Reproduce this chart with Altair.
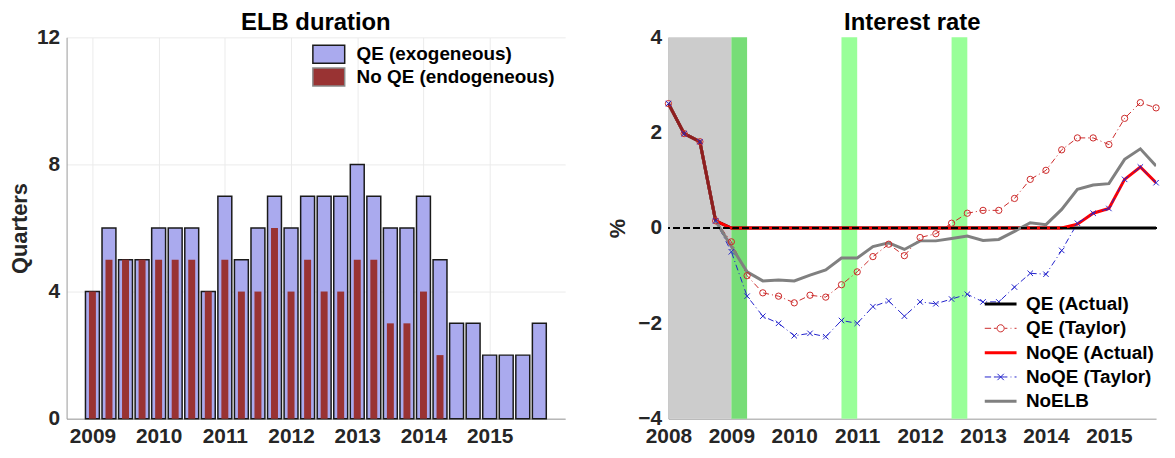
import altair as alt
import pandas as pd

FONT = "Liberation Sans"
TXT = "#262626"

# ---------------- Left panel data: ELB duration ----------------
bar_quarters = [
    "2009Q1", "2009Q2", "2009Q3", "2009Q4",
    "2010Q1", "2010Q2", "2010Q3", "2010Q4",
    "2011Q1", "2011Q2", "2011Q3", "2011Q4",
    "2012Q1", "2012Q2", "2012Q3", "2012Q4",
    "2013Q1", "2013Q2", "2013Q3", "2013Q4",
    "2014Q1", "2014Q2", "2014Q3", "2014Q4",
    "2015Q1", "2015Q2", "2015Q3", "2015Q4",
]
qe_exog = [4, 6, 5, 5, 6, 6, 6, 4, 7, 5, 6, 7, 6, 7, 7, 7, 8, 7, 6, 6, 7, 5, 3, 3, 2, 2, 2, 3]
noqe_endog = [4, 5, 5, 5, 5, 5, 5, 4, 5, 4, 4, 6, 4, 5, 4, 4, 5, 5, 3, 3, 4, 2]
bar_names = ["QE (exogeneous)", "No QE (endogeneous)"]
bar_ticks = [0, 4, 8, 12]
bar_years = [2009, 2010, 2011, 2012, 2013, 2014, 2015]


def qpos(label):
    return int(label[:4]) + (int(label[-1]) - 1) / 4.0


rows = []
for q, v in zip(bar_quarters, qe_exog):
    rows.append({"t": qpos(q), "series": bar_names[0], "value": v})
for q, v in zip(bar_quarters, noqe_endog):
    rows.append({"t": qpos(q), "series": bar_names[1], "value": v})
bars_df = pd.DataFrame(rows)

# ---------------- Right panel data: Interest rate ----------------
rate_quarters = [
    "2008Q1", "2008Q2", "2008Q3", "2008Q4",
    "2009Q1", "2009Q2", "2009Q3", "2009Q4",
    "2010Q1", "2010Q2", "2010Q3", "2010Q4",
    "2011Q1", "2011Q2", "2011Q3", "2011Q4",
    "2012Q1", "2012Q2", "2012Q3", "2012Q4",
    "2013Q1", "2013Q2", "2013Q3", "2013Q4",
    "2014Q1", "2014Q2", "2014Q3", "2014Q4",
    "2015Q1", "2015Q2", "2015Q3", "2015Q4",
]
qe_actual = [2.61, 1.98, 1.81, 0.15, 0, 0, 0, 0, 0, 0, 0, 0, 0, 0, 0, 0,
             0, 0, 0, 0, 0, 0, 0, 0, 0, 0, 0, 0, 0, 0, 0, 0]
qe_taylor = [2.61, 1.98, 1.81, 0.15, -0.29, -1.00, -1.36, -1.43, -1.57, -1.41, -1.45, -1.19,
             -0.92, -0.60, -0.34, -0.58, -0.20, -0.12, 0.10, 0.31, 0.37, 0.37, 0.62, 1.02,
             1.21, 1.64, 1.89, 1.89, 1.75, 2.30, 2.63, 2.52]
noqe_actual = [2.61, 1.98, 1.81, 0.15, 0, 0, 0, 0, 0, 0, 0, 0, 0, 0, 0, 0,
               0, 0, 0, 0, 0, 0, 0, 0, 0, 0, 0.08, 0.31, 0.41, 1.02, 1.28, 0.95]
noqe_taylor = [2.61, 1.98, 1.81, 0.15, -0.50, -1.43, -1.85, -2.00, -2.26, -2.21, -2.28, -1.94,
               -2.00, -1.65, -1.53, -1.85, -1.55, -1.59, -1.49, -1.39, -1.55, -1.55, -1.24, -0.95,
               -0.97, -0.47, 0.10, 0.31, 0.41, 1.02, 1.28, 0.95]
noelb = [2.61, 1.98, 1.81, 0.15, -0.39, -0.92, -1.11, -1.09, -1.11, -0.99, -0.88, -0.63,
         -0.63, -0.39, -0.31, -0.45, -0.27, -0.27, -0.22, -0.17, -0.26, -0.24, -0.07, 0.11,
         0.07, 0.39, 0.81, 0.90, 0.93, 1.44, 1.66, 1.30]
line_names = ["QE (Actual)", "QE (Taylor)", "NoQE (Actual)", "NoQE (Taylor)", "NoELB"]
rate_ticks = [-4, -2, 0, 2, 4]
rate_years = [2008, 2009, 2010, 2011, 2012, 2013, 2014, 2015]

# shaded periods: start, end, kind
shade_start = [2008.0, 2009.0, 2010.75, 2012.5]
shade_end = [2009.0, 2009.25, 2011.0, 2012.75]
shade_kind = ["pre", "overlap", "qe", "qe"]

lrows = []
for name, vals in zip(line_names, [qe_actual, qe_taylor, noqe_actual, noqe_taylor, noelb]):
    for q, v in zip(rate_quarters, vals):
        lrows.append({"t": qpos(q), "series": name, "value": v})
lines_df = pd.DataFrame(lrows)
shade_df = pd.DataFrame({"start": shade_start, "end": shade_end, "kind": shade_kind,
                         "lo": [rate_ticks[0]] * 4, "hi": [rate_ticks[-1]] * 4})

LABEL_SIZE = 21
TITLE_SIZE = 24
PH = 384

# ---------------- Left chart ----------------
LW = 502
xb = alt.X("t:Q", scale=alt.Scale(domain=[2008.685, 2016.065], nice=False, zero=False),
           axis=alt.Axis(values=bar_years, format="d", grid=True, title=None, ticks=False,
                         labelPadding=7, labelOverlap=False, labelFlush=False))
yb = alt.Y("value:Q", scale=alt.Scale(domain=[0, 12], nice=False),
           axis=alt.Axis(values=bar_ticks, grid=True, title="Quarters", ticks=False,
                         labelPadding=7, titlePadding=5, labelOverlap=False))

rect_path = "M-1.78,-1L1.78,-1L1.78,1L-1.78,1Z"
bar_legend = alt.Legend(title=None, orient="none", legendX=254, legendY=7,
                        symbolType=rect_path, symbolSize=324, labelOffset=18,
                        rowPadding=-1, symbolStrokeWidth=1.5, symbolOpacity=1,
                        labelFontSize=19, labelFont=FONT, labelFontWeight="bold",
                        labelColor="#000000", padding=0, labelLimit=400)
fill_enc = alt.Fill("series:N", scale=alt.Scale(domain=bar_names, range=["#AAAAEE", "#993333"]),
                    legend=bar_legend)
stroke_enc = alt.Stroke("series:N", scale=alt.Scale(domain=bar_names, range=["#1A1A1A", "#8A8A8A"]),
                        legend=bar_legend)

qe_bars = alt.Chart(bars_df).transform_filter(alt.datum.series == bar_names[0]).mark_bar(
    size=14, strokeWidth=1.5, orient="vertical", opacity=1
).encode(x=xb, y=yb, fill=fill_enc, stroke=stroke_enc)
noqe_bars = alt.Chart(bars_df).transform_filter(alt.datum.series == bar_names[1]).mark_bar(
    size=7, strokeWidth=0, orient="vertical", opacity=1
).encode(x=xb, y=yb, fill=fill_enc, stroke=stroke_enc)

left = alt.layer(qe_bars, noqe_bars).properties(
    width=LW, height=PH,
    title=alt.Title("ELB duration", fontSize=TITLE_SIZE, font=FONT, fontWeight="bold",
                    color="#000000", offset=-9),
)

# ---------------- Right chart ----------------
RW = 491
x_axis_r = alt.Axis(values=rate_years, format="d", grid=False, title=None, ticks=False,
                    labelPadding=7, labelOverlap=False, labelFlush=False)
y_axis_r = alt.Axis(values=rate_ticks, grid=False, title="%", ticks=False,
                    labelPadding=7, titlePadding=8, labelOverlap=False)
x_scale_r = alt.Scale(domain=[2008, 2015.75], nice=False, zero=False)
y_scale_r = alt.Scale(domain=[-4, 4], nice=False)
xr = alt.X("t:Q", scale=x_scale_r, axis=x_axis_r)
yr = alt.Y("value:Q", scale=y_scale_r, axis=y_axis_r)

shade = alt.Chart(shade_df).mark_rect(opacity=1).encode(
    x=alt.X("start:Q", scale=x_scale_r, axis=x_axis_r),
    x2="end:Q",
    y=alt.Y("lo:Q", scale=y_scale_r, axis=y_axis_r),
    y2="hi:Q",
    color=alt.Color("kind:N", scale=alt.Scale(domain=["pre", "overlap", "qe"],
                                              range=["#CCCCCC", "#77DD77", "#99FF99"]),
                    legend=None),
)


def line_layer(name, color, width, dash=None):
    kw = dict(color=color, strokeWidth=width, clip=True)
    if dash:
        kw["strokeDash"] = dash
    return alt.Chart(lines_df).transform_filter(alt.datum.series == name).mark_line(**kw).encode(
        x=xr, y=yr)


l_qe_act = line_layer(line_names[0], "#000000", 3)
l_qe_tay = line_layer(line_names[1], "#CC2A2A", 1, [6, 3, 1, 3])
l_noqe_act = line_layer(line_names[2], "#FF0000", 3)
l_noqe_tay = line_layer(line_names[3], "#2222CC", 1, [6, 3, 1, 3])
l_noelb = line_layer(line_names[4], "#808080", 3)

early = alt.Chart(lines_df).transform_filter(
    (alt.datum.series == line_names[2]) & (alt.datum.t <= 2008.75)
).mark_line(color="#8E1E1E", strokeWidth=3).encode(x=xr, y=yr)

cross_path = "M-1,-1L1,1M-1,1L1,-1"
p_qe_tay = alt.Chart(lines_df).transform_filter(alt.datum.series == line_names[1]).mark_point(
    shape="circle", filled=False, color="#CC2A2A", size=40, strokeWidth=1, opacity=1
).encode(x=xr, y=yr)
p_noqe_tay = alt.Chart(lines_df).transform_filter(alt.datum.series == line_names[3]).mark_point(
    shape=cross_path, filled=False, color="#2222CC", size=30, strokeWidth=1, opacity=1
).encode(x=xr, y=yr)

zero_line = alt.Chart(lines_df).mark_rule(color="#000000", strokeWidth=1, strokeDash=[6, 4]).encode(
    y=alt.Y(datum=0, scale=y_scale_r)
)

# legend symbols: line sample (with marker) drawn as a path
dashdot_circle = ("M-2,0H-1.2M-0.85,0H-0.5M0.5,0H0.85M1.25,0H1.35M1.75,0H2"
                  "M0.45,0A0.45,0.45 0 1,1 -0.45,0A0.45,0.45 0 1,1 0.45,0")
dashdot_cross = ("M-2,0H-1.2M-0.85,0H-0.5M0.5,0H0.85M1.25,0H1.35M1.75,0H2"
                 "M-0.4,-0.4L0.4,0.4M-0.4,0.4L0.4,-0.4M-0.5,0H0.5")
solid = "M-2,0H2"
line_legend = alt.Legend(title=None, orient="none", legendX=325, legendY=259,
                         symbolSize=256, labelOffset=16, rowPadding=4.5, padding=0,
                         labelFontSize=19, labelFont=FONT, labelFontWeight="bold",
                         labelColor="#000000", symbolFillColor="transparent", symbolOpacity=1,
                         labelLimit=400)
legend_layer = alt.Chart(alt.InlineData(values=[{"series": "none", "t": 0, "value": 0}])).transform_filter(
    alt.datum.series != "none"
).mark_point(filled=False, opacity=1).encode(
    x=xr, y=yr,
    shape=alt.Shape("series:N", scale=alt.Scale(domain=line_names,
                                                range=[solid, dashdot_circle, solid, dashdot_cross, solid]),
                    legend=line_legend),
    stroke=alt.Stroke("series:N", scale=alt.Scale(domain=line_names,
                                                  range=["#000000", "#CC2A2A", "#FF0000", "#2222CC", "#808080"]),
                      legend=line_legend),
    strokeWidth=alt.StrokeWidth("series:N", scale=alt.Scale(type="ordinal", domain=line_names,
                                                            range=[3, 1, 3, 1, 3]),
                                legend=line_legend),
)

right = alt.layer(shade, l_qe_act, l_qe_tay, l_noqe_act, l_noqe_tay, l_noelb, early,
                  p_qe_tay, p_noqe_tay, zero_line, legend_layer).properties(
    width=RW, height=PH,
    title=alt.Title("Interest rate", fontSize=TITLE_SIZE, font=FONT, fontWeight="bold",
                    color="#000000", offset=-9),
)

chart = alt.hconcat(left, right, spacing=42).resolve_scale(
    x="independent", y="independent", fill="independent", stroke="independent",
    shape="independent", strokeWidth="independent", color="independent"
).resolve_legend(
    fill="independent", stroke="independent", shape="independent", strokeWidth="independent",
    color="independent"
).properties(
    padding={"left": 0, "top": 2, "right": 5, "bottom": 0}
).configure_view(stroke=None).configure_axis(
    labelFont=FONT, labelFontSize=LABEL_SIZE, labelFontWeight="bold", labelColor=TXT,
    titleFont=FONT, titleFontSize=22, titleFontWeight="bold", titleColor=TXT,
    domainColor="#999999", domainWidth=1, gridColor="#EBEBEB", gridWidth=1,
).configure_axisY(labelBaseline="middle")

chart.save("out.html", embed_options={"renderer": "svg", "actions": False})
